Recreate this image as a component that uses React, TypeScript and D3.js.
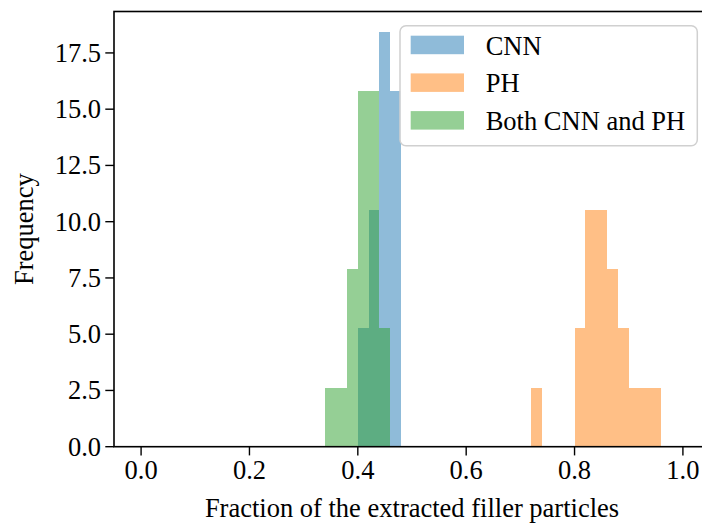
import React from "react";
import * as d3 from "d3";

// Histogram bins (left edges) and frequency heights for each method
const binWidth = 0.02;
const cnnBins = [0.40, 0.42, 0.44, 0.46];
const cnnFreq = [5.26, 10.53, 18.42, 15.79];
const phBins = [0.72, 0.80, 0.82, 0.84, 0.86, 0.88, 0.90, 0.92, 0.94];
const phFreq = [2.63, 5.26, 10.53, 10.53, 7.89, 5.26, 2.63, 2.63, 2.63];
const bothBins = [0.34, 0.36, 0.38, 0.40, 0.42, 0.44];
const bothFreq = [2.63, 2.63, 7.89, 15.79, 15.79, 5.26];

const seriesNames = ["CNN", "PH", "Both CNN and PH"];
const seriesColors = ["#1f77b4", "#ff7f0e", "#2ca02c"];

const xTicks = [0.0, 0.2, 0.4, 0.6, 0.8, 1.0];
const yTicks = [0.0, 2.5, 5.0, 7.5, 10.0, 12.5, 15.0, 17.5];

const xLabel = "Fraction of the extracted filler particles";
const yLabel = "Frequency";

const W = 702;
const H = 524;
const left = 114;
const right = 710;
const top = 11.5;
const bottom = 446.7;
const font = "'Liberation Serif', 'Times New Roman', Times, serif";
const fs = 26.5;
const textStyle = { fontFamily: font, fontSize: fs };

export default function App() {
  const x = d3.scaleLinear().domain([-0.05, 1.05]).range([left, right]);
  const y = d3.scaleLinear().domain([0, 19.341]).range([bottom, top]);
  const fmt = d3.format(".1f");

  const series = [
    { bins: cnnBins, freq: cnnFreq },
    { bins: phBins, freq: phFreq },
    { bins: bothBins, freq: bothFreq },
  ];

  const legendX = 400;
  const legendY = 25.7;
  const rowGap = 37.7;

  return (
    <svg
      width={W}
      height={H}
      style={{ position: "absolute", left: 0, top: 0, background: "#fff" }}
    >
      <rect x={0} y={0} width={W} height={H} fill="#fff" />
      {series.map((s, si) => (
        <g key={si} shapeRendering="crispEdges">
          {s.bins.map((b, i) => (
            <rect
              key={i}
              x={x(b)}
              y={y(s.freq[i])}
              width={x(b + binWidth) - x(b)}
              height={y(0) - y(s.freq[i])}
              fill={seriesColors[si]}
              fillOpacity={0.5}
            />
          ))}
        </g>
      ))}

      {/* frame */}
      <rect
        x={left}
        y={top}
        width={right - left}
        height={bottom - top}
        fill="none"
        stroke="#000"
        strokeWidth={1.6}
      />

      {/* x axis ticks */}
      {xTicks.map((t) => (
        <g key={t}>
          <line x1={x(t)} x2={x(t)} y1={bottom} y2={bottom + 8.7} stroke="#000" strokeWidth={1.4} />
          <text x={x(t)} y={bottom + 32} textAnchor="middle" style={textStyle} fill="#000">
            {fmt(t)}
          </text>
        </g>
      ))}

      {/* y axis ticks */}
      {yTicks.map((t) => (
        <g key={t}>
          <line x1={left - 8.7} x2={left} y1={y(t)} y2={y(t)} stroke="#000" strokeWidth={1.4} />
          <text
            x={left - 13}
            y={y(t)}
            dy="0.34em"
            textAnchor="end"
            style={textStyle}
            fill="#000"
          >
            {fmt(t)}
          </text>
        </g>
      ))}

      <text x={(left + right) / 2} y={517} textAnchor="middle" style={textStyle} fill="#000">
        {xLabel}
      </text>
      <text
        transform={`translate(33, ${(top + bottom) / 2}) rotate(-90)`}
        textAnchor="middle"
        style={textStyle}
        fill="#000"
      >
        {yLabel}
      </text>

      {/* legend */}
      <rect
        x={legendX}
        y={legendY}
        width={297.3}
        height={120}
        rx={6}
        fill="#fff"
        fillOpacity={0.8}
        stroke="#d0d0d0"
        strokeWidth={1.5}
      />
      {seriesNames.map((name, i) => (
        <g key={name}>
          <rect
            x={410.7}
            y={35.7 + i * rowGap}
            width={53.3}
            height={18.5}
            fill={seriesColors[i]}
            fillOpacity={0.5}
          />
          <text x={485.7} y={54.5 + i * rowGap} style={textStyle} fill="#000">
            {name}
          </text>
        </g>
      ))}
    </svg>
  );
}
